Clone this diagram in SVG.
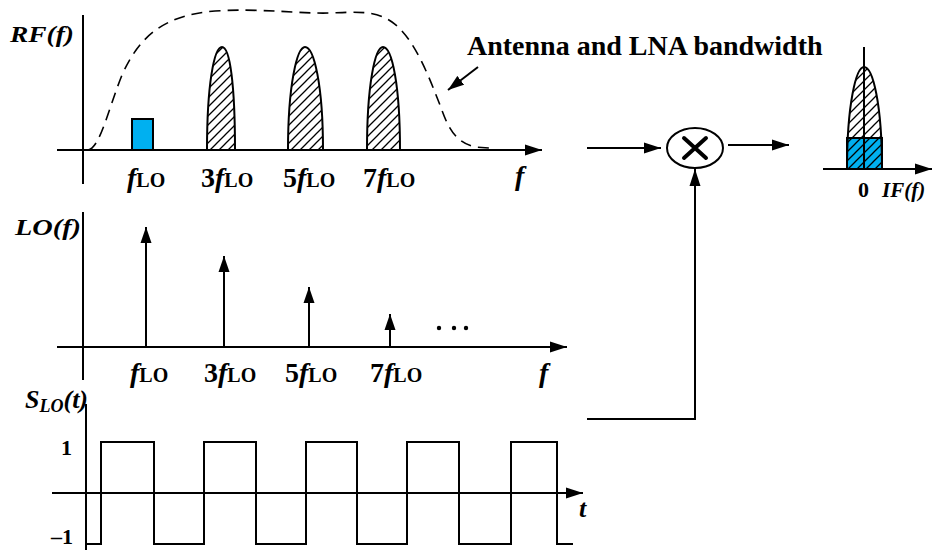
<svg xmlns="http://www.w3.org/2000/svg" width="932" height="550" viewBox="0 0 932 550" font-family="'Liberation Serif', 'Times New Roman', serif">
<defs>
<marker id="arr" markerUnits="userSpaceOnUse" markerWidth="18" markerHeight="12" refX="17" refY="6" orient="auto"><path d="M0,0.5 L17,6 L0,11.5 z" fill="#000"/></marker>
<marker id="arrS" markerUnits="userSpaceOnUse" markerWidth="16" markerHeight="12" refX="16" refY="6" orient="auto"><path d="M0,0.5 L16,6 L0,11.5 z" fill="#000"/></marker>
<pattern id="hatch" patternUnits="userSpaceOnUse" width="9" height="9"><path d="M-2,2 L2,-2 M0,9 L9,0 M7,11 L11,7" stroke="#000" stroke-width="1.3"/></pattern>
<style>
.ax{stroke:#000;stroke-width:2;fill:none}
.ln{stroke:#000;stroke-width:2;fill:none}
.lobe{stroke:#000;stroke-width:2;fill:url(#hatch)}
.dash{stroke:#000;stroke-width:1.6;fill:none;stroke-dasharray:11 7}
text{font-family:'Liberation Serif','Times New Roman',serif;font-weight:bold;fill:#000}
.it{font-style:italic}
.big{font-size:28px}
.sub{font-size:20px;font-style:normal}
.lbl{font-size:24px;font-style:italic}
</style>
</defs>

<g id="rf-plot">
<path class="ax" d="M83,15 V184"/>
<path class="ax" d="M57,150 H542" marker-end="url(#arr)"/>
<path class="dash" d="M88,150 C100,148 108,110 122,75 C140,35 165,15 215,11 C260,8 300,14 330,13 C355,12 375,10 392,22 C415,38 430,80 440,105 C448,128 455,142 475,147 L490,148"/>
<rect x="132" y="119" width="21" height="31" fill="#00b0f0" stroke="#000" stroke-width="2"/>
<path class="lobe" d="M207,150 C207,85 214,47 222,47 C230,47 235,85 235,150 Z"/>
<path class="lobe" d="M288,150 C288,85 297,47 305,47 C314,47 323,85 323,150 Z"/>
<path class="lobe" d="M367,150 C367,85 375,47 383,47 C392,47 400,85 400,150 Z"/>
<text class="lbl" x="10" y="42" textLength="64" lengthAdjust="spacingAndGlyphs">RF(f)</text>
<text class="big" x="127" y="187"><tspan class="it">f</tspan><tspan class="sub">LO</tspan></text>
<text class="big" x="201" y="187">3<tspan class="it">f</tspan><tspan class="sub">LO</tspan></text>
<text class="big" x="283" y="187">5<tspan class="it">f</tspan><tspan class="sub">LO</tspan></text>
<text class="big" x="363" y="187">7<tspan class="it">f</tspan><tspan class="sub">LO</tspan></text>
<text class="big it" x="515" y="185">f</text>
<text class="big" x="467" y="55">Antenna and LNA bandwidth</text>
</g>

<g id="lo-plot">
<path class="ax" d="M83,212 V380"/>
<path class="ax" d="M57,347 H567" marker-end="url(#arr)"/>
<path class="ln" d="M146,347 V227" marker-end="url(#arrS)"/>
<path class="ln" d="M224,347 V256" marker-end="url(#arrS)"/>
<path class="ln" d="M309,347 V287" marker-end="url(#arrS)"/>
<path class="ln" d="M390,347 V314" marker-end="url(#arrS)"/>
<circle cx="439" cy="328" r="2.2"/>
<circle cx="454" cy="328" r="2.2"/>
<circle cx="466" cy="328" r="2.2"/>
<text class="lbl" x="15" y="235" textLength="66" lengthAdjust="spacingAndGlyphs">LO(f)</text>
<text class="big" x="130" y="382"><tspan class="it">f</tspan><tspan class="sub">LO</tspan></text>
<text class="big" x="204" y="382">3<tspan class="it">f</tspan><tspan class="sub">LO</tspan></text>
<text class="big" x="285" y="382">5<tspan class="it">f</tspan><tspan class="sub">LO</tspan></text>
<text class="big" x="370" y="382">7<tspan class="it">f</tspan><tspan class="sub">LO</tspan></text>
<text class="big it" x="539" y="382">f</text>
</g>

<g id="slo-plot">
<path class="ax" d="M86,404 V550"/>
<path class="ax" d="M52,493 H583" marker-end="url(#arr)"/>
<path class="ln" d="M86,544 H101 V442 H154 V544 H204 V442 H256 V544 H306 V442 H357 V544 H407 V442 H459 V544 H511 V442 H557 V544 H573"/>
<text class="it" x="25" y="408" font-size="26">S<tspan font-size="18" dy="4">LO</tspan><tspan dy="-4">(t)</tspan></text>
<text x="61" y="455" font-size="22">1</text>
<text x="51" y="544" font-size="22">–1</text>
<text class="it" x="579" y="517" font-size="26">t</text>
</g>

<g id="mixer">
<ellipse cx="695" cy="148" rx="28" ry="20" fill="#fff" stroke="#000" stroke-width="2"/>
<path d="M684,138 L706,158 M706,138 L684,158" stroke="#000" stroke-width="4" stroke-linecap="round"/>
</g>

<g id="if-plot">
<rect x="847" y="138" width="35" height="31" fill="#00b0f0" stroke="#000" stroke-width="2"/>
<path class="lobe" d="M847,169 C847,105 856,67 864,67 C873,67 882,105 882,169 Z"/>
<path class="ax" d="M864,47 V169"/>
<path class="ax" d="M823,169 H932" marker-end="url(#arr)"/>
<text x="858" y="197" font-size="22">0</text>
<text class="it" x="882" y="197" font-size="21">IF(f)</text>
</g>

<g id="connectors">
<path class="ln" d="M478,67 L448,90" marker-end="url(#arrS)"/>
<path class="ln" d="M587,148 H661" marker-end="url(#arr)"/>
<path class="ln" d="M728,145 H789" marker-end="url(#arr)"/>
<path class="ln" d="M587,419 H695 V169" marker-end="url(#arr)"/>
</g>
</svg>
